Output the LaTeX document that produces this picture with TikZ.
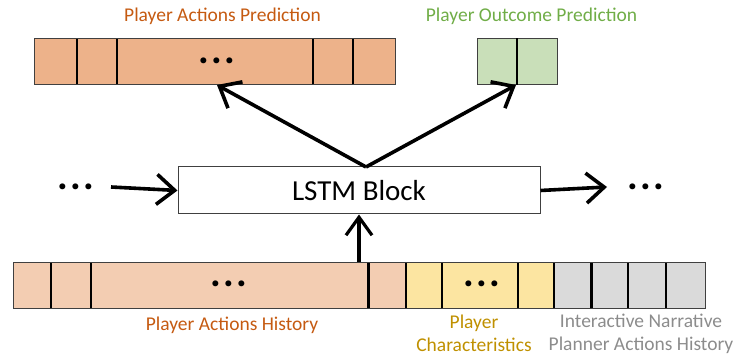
\documentclass[tikz,border=0pt]{standalone}
\usepackage{fontspec}
\setmainfont{Carlito}
\usetikzlibrary{arrows.meta}
\definecolor{predfill}{HTML}{EDB28A}
\definecolor{histfill}{HTML}{F3CDB2}
\definecolor{outfill}{HTML}{C9DFB9}
\definecolor{charfill}{HTML}{FCE5A1}
\definecolor{planfill}{HTML}{DADADA}
\definecolor{orangetxt}{HTML}{C55A11}
\definecolor{greentxt}{HTML}{70AD47}
\definecolor{goldtxt}{HTML}{BF9000}
\definecolor{greytxt}{HTML}{8C8C8C}
\definecolor{edge}{HTML}{404040}
\tikzset{
  bar/.style={draw=edge, line width=1pt, inner sep=0pt, minimum height=46pt},
  divider/.style={black, line width=2.2pt},
  label/.style={font=\fontsize{19.5}{23}\selectfont, align=center, inner sep=0pt},
  flow/.style={line width=3.6pt, -{Straight Barb[length=18pt, width=30pt, line width=3.6pt]}},
  feed/.style={line width=3.2pt, -{Straight Barb[length=18pt, width=26pt, line width=3.2pt]}},
  dots/.style={font=\fontsize{40}{40}\selectfont\bfseries, inner sep=0pt}
}
\newcommand{\threedots}{.\kern2.3pt.\kern2.3pt.}
\begin{document}
\begin{tikzpicture}[x=1pt, y=1pt]
\useasboundingbox (0,0) rectangle (738,358);

% prediction bar and outcome box
\node[bar, fill=predfill, minimum width=361pt] (pred) at (214.5,296) {};
\foreach \xx in {77,117,313,353}
  \draw[divider] (\xx,273.5) -- (\xx,318.5);
\node[dots] (predots) at (217,297) {\threedots};
\node[bar, fill=outfill, minimum width=80pt] (outc) at (517,296) {};
\draw[divider] (outc.north) -- (outc.south);

\node[label, text=orangetxt] (predlbl) at (222.5,342) {Player Actions Prediction};
\node[label, text=greentxt] (outlbl) at (531.5,342) {Player Outcome Prediction};

% LSTM block
\node[draw=edge, line width=1pt, minimum width=362pt, minimum height=47pt, inner sep=0pt,
      font=\fontsize{29}{29}\selectfont] (lstm) at (359,167.5) {LSTM Block};

% recurrent links
\node[dots] (ldots) at (76,171) {\threedots};
\node[dots] (rdots) at (646,171) {\threedots};
\coordinate (lin) at (111,171);
\coordinate (rout) at (607,171);
\draw[flow] (lin) -- (lstm.west);
\draw[flow] (lstm.east) -- (rout);

% outputs
\coordinate (top) at (366,191);
\coordinate (predin) at (217,273);
\coordinate (outin) at (516,273);
\draw[flow] (top) -- (predin);
\draw[flow] (top) -- (outin);

% input history bar
\fill[histfill] (13,49) rectangle (406,95);
\fill[charfill] (406,49) rectangle (554,95);
\fill[planfill] (554,49) rectangle (705,95);
\node[bar, minimum width=692pt] (hist) at (359,72) {};
\foreach \xx in {51,91,368.5,406,442,518,554,591.5,628,666}
  \draw[divider] (\xx,49.5) -- (\xx,94.5);
\node[dots] (hdots1) at (229,74) {\threedots};
\node[dots] (hdots2) at (482,74) {\threedots};

\draw[feed] (hist.north) -- (lstm.south);

\node[label, text=orangetxt] (histlbl) at (232,33) {Player Actions History};
\node[label, text=goldtxt] (charlbl) at (474,24.5) {Player\\Characteristics};
\node[label, text=greytxt] (planlbl) at (641,24.5) {Interactive Narrative\\Planner Actions History};
\end{tikzpicture}
\end{document}
